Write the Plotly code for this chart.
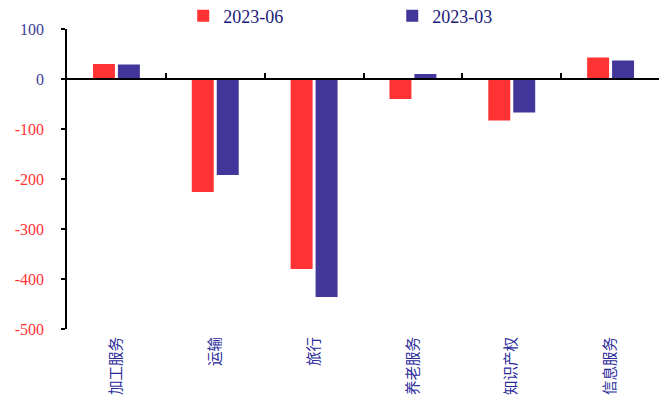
import plotly.graph_objects as go

categories = ["加工服务", "运输", "旅行", "养老服务", "知识产权", "信息服务"]
series_names = ["2023-06", "2023-03"]
values_2306 = [30, -226, -380, -40, -83, 43]
values_2303 = [29, -192, -436, 10, -67, 37]
y_ticks = [100, 0, -100, -200, -300, -400, -500]

RED = "#FF3333"
BLUE = "#42369A"
LABEL_BLUE = "#2A2A9A"
POS_TICK = "#3D3D99"

def tick_label(v):
    if v < 0:
        return f'<span style="color:{RED}">{v}</span>'
    return str(v)

fig = go.Figure()
fig.add_trace(go.Bar(name=series_names[0], x=categories, y=values_2306,
                     marker=dict(color=RED, line=dict(width=0)), xaxis="x", yaxis="y"))
fig.add_trace(go.Bar(name=series_names[1], x=categories, y=values_2303,
                     marker=dict(color=BLUE, line=dict(width=0)), xaxis="x", yaxis="y"))
# invisible helper trace to carry the category labels axis at bottom
fig.add_trace(go.Scatter(x=categories, y=[0] * len(categories), mode="markers",
                         marker=dict(opacity=0), showlegend=False, hoverinfo="skip",
                         xaxis="x2", yaxis="y"))

ymin, ymax = -500, 100
fig.update_layout(
    width=659, height=397,
    margin=dict(l=59, r=7, t=21, b=76, autoexpand=False),
    paper_bgcolor="white", plot_bgcolor="white",
    barmode="group", bargap=0.495, bargroupgap=0.12,
    font=dict(family="Liberation Serif", size=15, color=LABEL_BLUE),
    showlegend=True,
    legend=dict(orientation="h", x=0.196, xanchor="left", y=1.105, yanchor="top",
                font=dict(family="Liberation Serif", size=18, color="#1A1A7A"),
                entrywidth=164, entrywidthmode="pixels", bgcolor="rgba(0,0,0,0)",
                itemclick=False),
    xaxis=dict(type="category", categoryarray=categories, categoryorder="array",
               anchor="free", position=(0 - ymin) / (ymax - ymin),
               showline=True, linecolor="black", linewidth=2,
               ticks="inside", tickson="boundaries", ticklen=5, tickwidth=1.5,
               tickcolor="black", showticklabels=False, showgrid=False,
               zeroline=False, range=[-0.5, 5.5]),
    xaxis2=dict(type="category", categoryarray=categories, categoryorder="array",
                overlaying="x", anchor="y", side="bottom", matches="x",
                showline=False, ticks="", showgrid=False, zeroline=False,
                tickangle=-90, ticklabelstandoff=4,
                tickfont=dict(family="Noto Sans CJK SC", size=14.5, color=LABEL_BLUE)),
    yaxis=dict(range=[ymin, ymax], tickvals=y_ticks,
               ticktext=[tick_label(v) for v in y_ticks],
               tickfont=dict(family="Liberation Serif", size=16, color=POS_TICK),
               showline=True, linecolor="black", linewidth=1.5,
               ticks="outside", ticklen=4, tickwidth=1.5, tickcolor="black",
               ticklabelstandoff=14,
               showgrid=False, zeroline=False),
)

fig.write_html("out.html")
